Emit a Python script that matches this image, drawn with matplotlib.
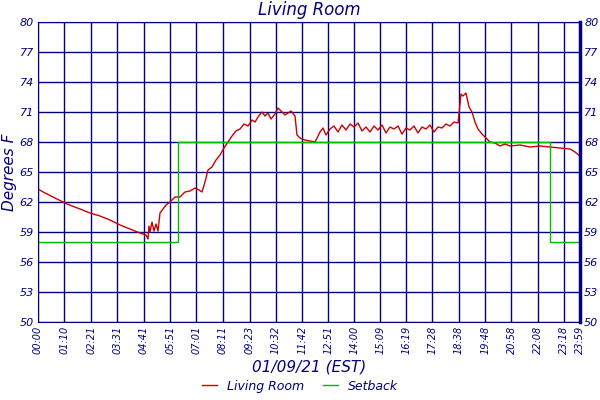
import matplotlib
matplotlib.use("Agg")
import matplotlib.pyplot as plt

def px2min(p):
    return (p - 38) * 1440.0 / 542.0

room_px = [38,45,55,67,80,90,100,110,120,130,140,146,148,149,150,152,154,156,158,160,163,166,170,175,180,185,190,195,199,202,205,208,212,216,220,224,228,232,236,240,244,248,252,255,258,262,265,268,271,275,278,282,285,288,291,295,297,300,305,310,315,318,320,323,326,330,334,338,342,346,350,354,358,362,366,370,374,378,382,386,390,394,398,402,406,410,414,418,422,426,430,434,438,442,446,450,454,458,461,463,466,469,472,475,478,482,486,490,495,500,505,510,520,530,540,550,560,570,575,580]
room_temp = [63.3,62.9,62.4,61.8,61.3,60.9,60.6,60.2,59.7,59.3,58.9,58.7,58.3,59.6,59.0,60.0,59.1,59.8,59.1,60.9,61.3,61.7,62.0,62.5,62.5,63.0,63.1,63.4,63.2,63.0,64.0,65.2,65.5,66.2,66.7,67.4,68.0,68.6,69.1,69.3,69.8,69.6,70.2,70.0,70.5,71.0,70.6,70.9,70.3,70.8,71.4,71.0,70.7,70.9,71.1,70.6,68.7,68.4,68.2,68.1,68.0,68.6,69.0,69.4,68.7,69.3,69.6,69.0,69.7,69.2,69.8,69.5,69.9,69.1,69.5,69.0,69.6,69.2,69.7,68.9,69.5,69.3,69.6,68.8,69.4,69.2,69.6,68.9,69.5,69.3,69.7,69.0,69.5,69.4,69.8,69.6,70.0,69.9,72.8,72.6,72.9,71.5,71.0,70.0,69.3,68.8,68.4,68.0,67.9,67.6,67.8,67.6,67.7,67.5,67.6,67.5,67.4,67.3,67.0,66.6]
setback_px = [38,178,178,550,550,580]
setback_temp = [58.0,58.0,68.0,68.0,58.0,58.0]
tick_labels = ["00:00","01:10","02:21","03:31","04:41","05:51","07:01","08:11","09:23","10:32","11:42","12:51","14:00","15:09","16:19","17:28","18:38","19:48","20:58","22:08","23:18","23:59"]
y_ticks = [50,53,56,59,62,65,68,71,74,77,80]

navy = "#000080"
def tomin(s):
    h, m = s.split(":"); return int(h)*60 + int(m)

fig = plt.figure(figsize=(6,4), dpi=100)
ax = fig.add_axes([38/600, 78/400, 542/600, 300/400])
ax.plot([px2min(p) for p in room_px], room_temp, color="#cc0000", lw=1.0, label="Living Room")
ax.plot([px2min(p) for p in setback_px], setback_temp, color="#00bb00", lw=1.0, label="Setback")
ax.set_xlim(0, 1440)
ax.set_ylim(50, 80)
tick_pos = [tomin(t) for t in tick_labels]
tick_pos[-1] = 1440
ax.set_xticks(tick_pos)
ax.set_xticklabels(tick_labels, rotation=90, fontsize=7, color=navy, style="italic")
ax.set_yticks(y_ticks)
ax.set_yticklabels([str(v) for v in y_ticks], fontsize=8, color=navy, style="italic")
ax.tick_params(length=0, right=True, labelright=True, pad=3)
ax.grid(True, color=navy, lw=1.0)
for s in ax.spines.values():
    s.set_color(navy)
ax.spines["right"].set_linewidth(2.5)
ax.set_title("Living Room", color=navy, style="italic", fontsize=12, pad=5)
ax.set_ylabel("Degrees F", color=navy, style="italic", fontsize=11, labelpad=2)
ax.set_xlabel("01/09/21 (EST)", color=navy, style="italic", fontsize=11, labelpad=4)
leg = fig.legend(loc="lower center", bbox_to_anchor=(0.5, -0.01), ncol=2, frameon=False,
                 fontsize=9, handlelength=1.2, columnspacing=1.5)
for t in leg.get_texts():
    t.set_color(navy); t.set_style("italic")
fig.savefig("out.png", dpi=100)
